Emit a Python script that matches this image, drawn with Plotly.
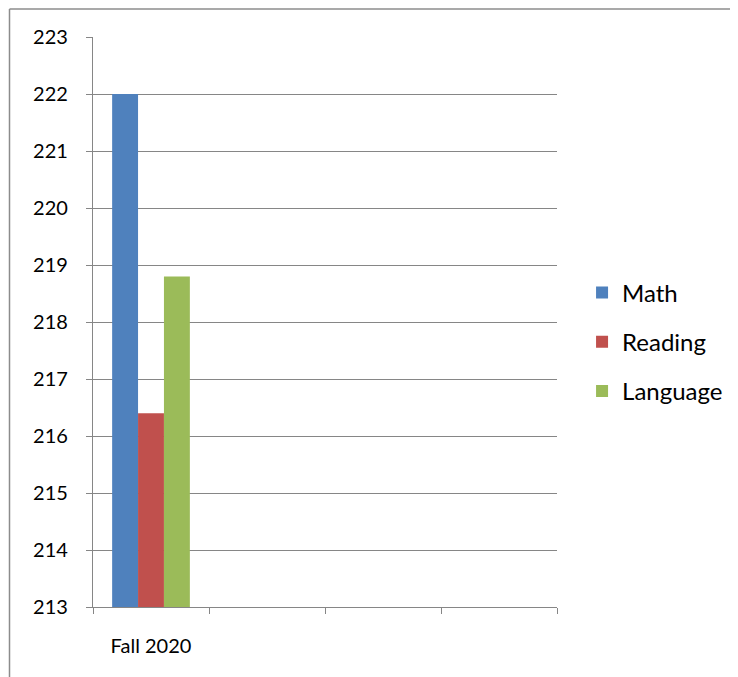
import plotly.graph_objects as go

categories = ["Fall 2020", " ", "  ", "   "]
series_names = ["Math", "Reading", "Language"]
math_vals = [222.0, None, None, None]
reading_vals = [216.4, None, None, None]
language_vals = [218.8, None, None, None]
colors = ["#4F81BD", "#C0504D", "#9BBB59"]
y_ticks = list(range(213, 224))

fig = go.Figure()
for i, (name, vals) in enumerate(zip(series_names, [math_vals, reading_vals, language_vals])):
    fig.add_trace(go.Bar(x=categories, y=vals, name=name, marker_color=colors[i],
                         marker_line_width=0, legendgroup=name))

axis_col = "#868686"
font_fam = "Lato, 'Open Sans', sans-serif"
# page body has an 8px margin, so the figure is offset by 8px
fig.update_layout(
    width=730, height=669,
    margin=dict(l=85, r=181, t=29, b=70, autoexpand=False),
    paper_bgcolor="white", plot_bgcolor="white",
    barmode="group", bargap=0.33, bargroupgap=0,
    font=dict(family=font_fam, size=20, color="black"),
    showlegend=True,
    legend=dict(x=1.054, y=0.465, xanchor="left", yanchor="middle",
                tracegroupgap=15, font=dict(size=24), bgcolor="rgba(0,0,0,0)"),
    xaxis=dict(type="category", categoryorder="array", categoryarray=categories,
               showline=True, linecolor=axis_col, linewidth=1.3,
               ticks="outside", ticklen=6, tickcolor=axis_col, tickwidth=1.3,
               tickson="boundaries", showgrid=False, ticklabelstandoff=21,
               range=[-0.5, 3.5], automargin=False),
    yaxis=dict(range=[213, 223], tickvals=y_ticks, showline=True, linecolor=axis_col,
               linewidth=1.3, ticks="outside", ticklen=6, tickcolor=axis_col, tickwidth=1.3,
               showgrid=True, gridcolor=axis_col, gridwidth=1.3, zeroline=False,
               ticklabelstandoff=14, automargin=False),
    shapes=[
        dict(type="line", xref="paper", yref="paper", x0=(9.5 - 93) / 464, x1=(745 - 93) / 464,
             y0=(607 - 9) / 570, y1=(607 - 9) / 570, line=dict(color="#8c8c8c", width=1.5)),
        dict(type="line", xref="paper", yref="paper", x0=(9.5 - 93) / 464, x1=(9.5 - 93) / 464,
             y0=(607 - 9) / 570, y1=(607 - 690) / 570, line=dict(color="#8c8c8c", width=1.5)),
    ],
)

fig.write_html("out.html")
